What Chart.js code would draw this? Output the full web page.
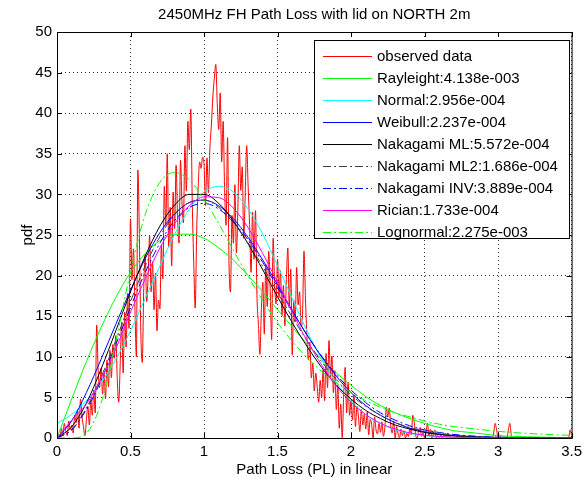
<!DOCTYPE html>
<html>
<head>
<meta charset="utf-8">
<script src="https://cdn.jsdelivr.net/npm/chart.js@4.4.1/dist/chart.umd.min.js"></script>
<style>
  html, body { margin: 0; padding: 0; background: #fff; }
  canvas { display: block; }
</style>
</head>
<body>
<canvas id="chart1" width="587" height="483"></canvas>
<script>
const chartTitle = '2450MHz FH Path Loss with lid on NORTH 2m';
const xTitle = 'Path Loss (PL) in linear';
const yTitle = 'pdf';

const xTicks = [0, 0.5, 1, 1.5, 2, 2.5, 3, 3.5];
const yTicks = [0, 5, 10, 15, 20, 25, 30, 35, 40, 45, 50];

const seriesNames = ['observed data', 'Rayleight:4.138e-003', 'Normal:2.956e-004', 'Weibull:2.237e-004',
  'Nakagami ML:5.572e-004', 'Nakagami ML2:1.686e-004', 'Nakagami INV:3.889e-004', 'Rician:1.733e-004',
  'Lognormal:2.275e-003'];
const seriesColors = ['#ff0000', '#00ff00', '#00ffff', '#0000ff', '#000000', '#404040', '#0000ff', '#ff00ff', '#00ff00'];
const dashDot = [8, 3, 2, 3];
const seriesDash = [[], [], [], [], [], dashDot, dashDot, [], dashDot];

// observed histogram, one value every 0.01 from 0 to 3.5
const obsStep = 0.01;
const observed = [
  0, 0.5, 0, 1.2, 0.4, 1.8, 0.8, 0.3, 2.1, 1.0,
  1.6, 0.6, 2.8, 1.9, 3.4, 1.2, 4.8, 2.6, 1.4, 0.3,
  2.2, 3.9, 1.6, 4.6, 2.8, 5.9, 3.1, 13.9, 8.4, 6.2,
  8.6, 5.4, 7.9, 4.8, 9.6, 6.3, 10.8, 7.4, 11.5, 9.8,
  12.6, 7.2, 4.4, 9.1, 14.3, 8.0, 15.5, 11.2, 17.8, 13.5,
  27.0, 19.5, 23.3, 16.1, 10.0, 33.0, 25.2, 13.1, 9.3, 18.4,
  22.6, 16.8, 20.1, 24.9, 18.0, 21.7, 15.8, 20.3, 13.2, 17.0,
  15.9, 23.8, 19.6, 31.0, 26.2, 35.0, 23.5, 28.4, 21.2, 30.3,
  25.8, 33.6, 27.1, 24.0, 34.2, 29.1, 26.5, 36.0, 30.4, 39.0,
  35.5, 40.5, 29.0, 21.6, 16.0, 25.4, 30.8, 34.0, 33.2, 34.6,
  33.8, 28.6, 34.5, 30.2, 35.8, 38.5, 42.0, 44.3, 46.0, 41.2,
  38.0, 42.5, 34.0, 39.0, 30.6, 26.2, 37.0, 21.5, 18.0, 27.4,
  24.0, 31.2, 22.8, 28.0, 36.0, 30.5, 33.4, 24.6, 29.8, 36.0,
  31.0, 26.3, 20.4, 27.8, 22.0, 28.0, 17.6, 14.0, 10.3, 15.8,
  19.2, 12.8, 21.4, 16.2, 23.0, 18.4, 12.1, 24.6, 19.0, 16.5,
  22.0, 17.3, 20.6, 15.1, 18.8, 13.8, 19.5, 23.4, 16.0, 20.8,
  10.2, 17.0, 14.3, 21.0, 16.4, 18.0, 13.7, 15.2, 23.0, 17.2,
  12.5, 9.6, 11.8, 7.4, 9.2, 5.8, 8.0, 6.3, 4.4, 7.1,
  5.0, 8.4, 4.6, 10.4, 6.2, 12.0, 7.5, 10.1, 5.6, 8.3,
  3.5, 6.6, 1.2, 4.2, 0.0, 5.4, 8.7, 3.1, 6.9, 2.8,
  4.6, 2.2, 5.3, 1.4, 3.9, 2.7, 0.8, 3.5, 1.6, 2.9,
  1.1, 3.2, 0.4, 2.3, 1.7, 0.0, 2.6, 1.0, 0.5, 1.8,
  0.7, 2.0, 0.2, 1.3, 3.8, 2.6, 3.7, 1.5, 0.6, 2.1,
  0.0, 1.4, 0.5, 0.0, 1.1, 0.3, 0.9, 0.0, 0.6, 0.2,
  1.2, 0.4, 2.8, 1.9, 0.3, 0.0, 0.9, 1.3, 0.2, 0.6,
  0.0, 0.8, 1.8, 0.3, 1.1, 0.0, 0.5, 1.0, 0.0, 0.3,
  0.0, 0.4, 0.0, 0.2, 0.6, 0.0, 0.0, 0.3, 0.0, 0.1,
  0.0, 0.0, 0.4, 0.0, 0.0, 0.2, 0.0, 0.0, 0.3, 0.0,
  0.0, 0.0, 0.0, 0.2, 0.0, 0.0, 0.0, 0.0, 0.0, 0.2,
  0.0, 0.0, 0.0, 0.0, 0.0, 0.0, 0.0, 0.6, 1.8, 1.0,
  0.0, 0.4, 0.0, 0.0, 0.0, 0.0, 0.0, 1.0, 1.8, 0.3,
  0.0, 0.0, 0.0, 0.0, 0.0, 0.0, 0.0, 0.0, 0.0, 0.0,
  0.0, 0.0, 0.0, 0.0, 0.0, 0.0, 0.0, 0.0, 0.0, 0.0,
  0.0, 0.0, 0.0, 0.0, 0.0, 0.0, 0.0, 0.0, 0.0, 0.0,
  0.0, 0.0, 0.0, 0.0, 0.0, 0.0, 0.0, 0.0, 0.0, 1.0, 0.3
];

// fitted pdfs, read every 0.1
const fitX = [0, 0.1, 0.2, 0.3, 0.4, 0.5, 0.6, 0.7, 0.8, 0.9, 1.0, 1.1, 1.2, 1.3, 1.4, 1.5, 1.6, 1.7,
  1.8, 1.9, 2.0, 2.1, 2.2, 2.3, 2.4, 2.5, 2.6, 2.7, 2.8, 2.9, 3.0, 3.1, 3.2, 3.3, 3.4, 3.5];
const rayleigh = [0, 4.8, 9.4, 13.6, 17.3, 20.4, 22.7, 24.3, 25.1, 25.1, 24.6, 23.4, 21.9, 20.0, 18.0, 15.8, 13.7, 11.6,
  9.7, 8.0, 6.5, 5.1, 4.0, 3.1, 2.4, 1.8, 1.3, 0.9, 0.7, 0.5, 0.3, 0.2, 0.15, 0.1, 0.06, 0.04];
const normal = [1.8, 2.9, 4.6, 6.8, 9.7, 13.2, 17.2, 21.2, 25.1, 28.2, 30.3, 31.0, 30.3, 28.2, 25.1, 21.2, 17.2, 13.2,
  9.7, 6.8, 4.6, 2.9, 1.8, 1.0, 0.57, 0.3, 0.15, 0.07, 0.03, 0.01, 0, 0, 0, 0, 0, 0];
const weibull = [0, 2.1, 5.6, 9.7, 14.0, 18.2, 22.1, 25.3, 27.6, 29.0, 29.3, 28.6, 27.0, 24.7, 21.9, 18.9, 15.7, 12.7,
  10.0, 7.6, 5.6, 4.0, 2.8, 1.9, 1.2, 0.78, 0.48, 0.29, 0.17, 0.09, 0.05, 0.03, 0.01, 0, 0, 0];
const nakagamiML = [0, 1.4, 4.3, 8.5, 13.2, 18.0, 22.4, 26.1, 28.7, 30.0, 30.0, 28.9, 26.7, 23.9, 20.7, 17.4, 14.2, 11.3,
  8.7, 6.5, 4.8, 3.4, 2.4, 1.6, 1.1, 0.68, 0.43, 0.26, 0.16, 0.09, 0.05, 0.03, 0.02, 0.01, 0.01, 0];
const nakagamiML2 = [0, 1.0, 3.7, 7.5, 12.0, 16.8, 21.2, 24.8, 27.5, 29.0, 29.3, 28.4, 26.5, 24.0, 21.1, 17.9, 14.9, 12.0,
  9.4, 7.2, 5.3, 3.9, 2.8, 1.9, 1.3, 0.85, 0.53, 0.33, 0.2, 0.12, 0.07, 0.04, 0.02, 0.01, 0, 0];
const nakagamiINV = [0, 1.0, 3.5, 7.1, 11.5, 16.1, 20.4, 24.0, 26.8, 28.4, 28.9, 28.2, 26.6, 24.4, 21.6, 18.6, 15.6, 12.7,
  10.1, 7.8, 5.9, 4.35, 3.1, 2.2, 1.5, 1.0, 0.68, 0.44, 0.28, 0.17, 0.11, 0.06, 0.03, 0.02, 0.01, 0];
const rician = [0, 2.2, 4.2, 7.3, 11.0, 15.5, 19.6, 23.4, 26.4, 28.6, 29.7, 29.6, 28.3, 25.9, 22.7, 19.2, 15.5, 12.0,
  9.0, 6.4, 4.4, 2.9, 1.8, 1.1, 0.63, 0.35, 0.19, 0.10, 0.05, 0.02, 0.01, 0, 0, 0, 0, 0];
const lognormal = [0, 0, 0.6, 4.3, 11.9, 20.5, 27.5, 31.5, 32.7, 31.8, 29.4, 26.4, 23.1, 19.9, 16.9, 14.2, 11.9, 9.9,
  8.2, 6.8, 5.6, 4.6, 3.8, 3.1, 2.6, 2.1, 1.7, 1.4, 1.2, 1.0, 0.82, 0.68, 0.57, 0.47, 0.39, 0.33];

const FONT = "'Liberation Sans', Arial, sans-serif";
Chart.defaults.font.family = FONT;
Chart.defaults.font.size = 15;
Chart.defaults.color = '#000';

const obsPoints = observed.map((v, i) => ({ x: +(i * obsStep).toFixed(2), y: v }));
const fit = arr => fitX.map((x, i) => ({ x: x, y: arr[i] }));
const allSeries = [obsPoints, fit(rayleigh), fit(normal), fit(weibull), fit(nakagamiML),
  fit(nakagamiML2), fit(nakagamiINV), fit(rician), fit(lognormal)];

const datasets = allSeries.map((data, i) => ({
  label: seriesNames[i],
  data: data,
  borderColor: seriesColors[i],
  backgroundColor: 'transparent',
  borderWidth: 1,
  borderDash: seriesDash[i],
  pointRadius: 0,
  cubicInterpolationMode: 'monotone',
  order: allSeries.length - i
}));

const frame = {
  id: 'frame',
  afterDraw(chart) {
    const { ctx, chartArea: a, scales: { x, y } } = chart;
    ctx.save();
    ctx.strokeStyle = '#000';
    ctx.lineWidth = 1;
    ctx.strokeRect(a.left + 0.5, a.top + 0.5, a.right - a.left, a.bottom - a.top);
    ctx.beginPath();
    xTicks.forEach(v => {
      const px = Math.round(x.getPixelForValue(v)) + 0.5;
      ctx.moveTo(px, a.bottom); ctx.lineTo(px, a.bottom - 5);
      ctx.moveTo(px, a.top); ctx.lineTo(px, a.top + 5);
    });
    yTicks.forEach(v => {
      const py = Math.round(y.getPixelForValue(v)) + 0.5;
      ctx.moveTo(a.left, py); ctx.lineTo(a.left + 5, py);
      ctx.moveTo(a.right, py); ctx.lineTo(a.right - 5, py);
    });
    ctx.stroke();

    ctx.fillStyle = '#000';
    ctx.font = '15px ' + FONT;
    ctx.textAlign = 'center';
    ctx.textBaseline = 'middle';
    ctx.fillText(chartTitle, (a.left + a.right) / 2, 15);
    ctx.fillText(xTitle, (a.left + a.right) / 2, 470);
    ctx.save();
    ctx.translate(28, (a.top + a.bottom) / 2);
    ctx.rotate(-Math.PI / 2);
    ctx.fillText(yTitle, 0, 0);
    ctx.restore();

    // legend box
    const bx = 314, by = 40, bw = 255, bh = 198;
    ctx.fillStyle = '#fff';
    ctx.fillRect(bx, by, bw, bh);
    ctx.strokeStyle = '#000';
    ctx.strokeRect(bx + 0.5, by + 0.5, bw, bh);
    ctx.textAlign = 'left';
    seriesNames.forEach((name, i) => {
      const ry = 2 * Math.round((55 + i * 22.2) / 2) + 0.5;
      ctx.strokeStyle = seriesColors[i];
      ctx.setLineDash(seriesDash[i]);
      ctx.beginPath();
      ctx.moveTo(323, ry);
      ctx.lineTo(372, ry);
      ctx.stroke();
      ctx.setLineDash([]);
      ctx.fillStyle = '#000';
      ctx.fillText(name, 377, ry);
    });
    ctx.restore();
  }
};

new Chart(document.getElementById('chart1'), {
  type: 'line',
  data: { datasets: datasets },
  options: {
    responsive: false,
    animation: false,
    layout: { padding: { left: 0, top: 32, right: 12, bottom: 0 } },
    plugins: {
      legend: { display: false },
      tooltip: { enabled: false }
    },
    scales: {
      x: {
        type: 'linear',
        min: 0,
        max: 3.5,
        afterBuildTicks: scale => { scale.ticks = xTicks.map(v => ({ value: v })); },
        afterFit: scale => { scale.height = 45; },
        ticks: { padding: 5, maxRotation: 0, callback: v => String(v) },
        grid: { color: '#333', drawTicks: false },
        border: { display: false, dash: [1, 3] }
      },
      y: {
        min: 0,
        max: 50,
        afterBuildTicks: scale => { scale.ticks = yTicks.map(v => ({ value: v })); },
        afterFit: scale => { scale.width = 57; },
        ticks: { padding: 5, callback: v => String(v) },
        grid: { color: '#333', drawTicks: false },
        border: { display: false, dash: [1, 3] }
      }
    }
  },
  plugins: [frame]
});
</script>
</body>
</html>
